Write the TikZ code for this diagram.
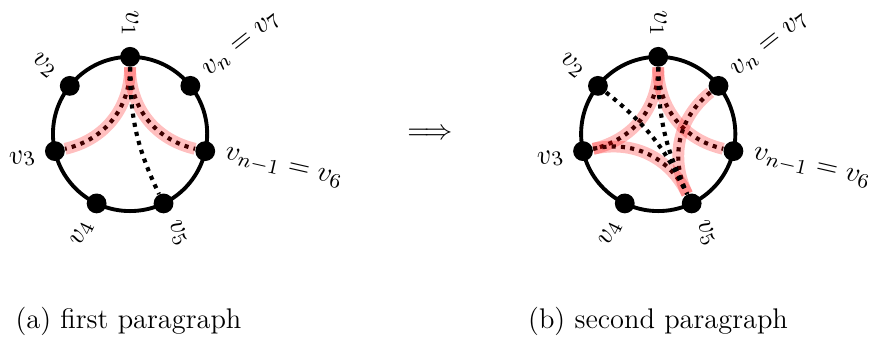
\documentclass[tikz,border=0pt]{standalone}
\usepackage{tikz}
\usetikzlibrary{calc}

\begin{document}
\begin{tikzpicture}[font=\fontsize{11}{13}\selectfont,
    vdot/.style={circle, fill=black, inner sep=0pt, minimum size=0.27cm},
    dotedge/.style={line width=1.6pt, dotted},
    redge/.style={dotedge, postaction={draw=red, solid, opacity=0.25, line width=4.6pt}}]
  \useasboundingbox (0,0) rectangle (11.90,4.63);
  \coordinate (La) at (1.771,2.806);
  \coordinate (Lb) at (8.962,2.806);
  % two 7-cycles with rotated labels
  \foreach \s in {a,b} {
    \draw[line width=1.5pt] (L\s) circle (1.05);
    \foreach \k/\txt in {1/v_1, 2/v_2, 3/v_3, 4/v_4, 5/v_5, 6/{v_{n-1}=v_6}, 7/{v_n=v_7}} {
      \pgfmathsetmacro\ang{90+(\k-1)*360/7}
      \node[vdot] (\s\k) at ($(L\s)+(\ang:1.05)$) {};
      \ifnum\k<5
        \node[anchor=east, rotate=\ang+180] (\s\k l) at ($(L\s)+(\ang:1.2)$) {$\txt$};
      \else
        \node[anchor=west, rotate=\ang] (\s\k l) at ($(L\s)+(\ang:1.2)$) {$\txt$};
      \fi
    }
  }
  % left
  \draw[redge] (a1) to[out=270, in=12.9] (a3);
  \draw[redge] (a1) to[out=270, in=167.1] (a6);
  \draw[dotedge] (a1) to[out=270, in=115.7] (a5);
  % right
  \draw[redge] (b1) to[out=270, in=12.9] (b3);
  \draw[redge] (b1) to[out=270, in=167.1] (b6);
  \draw[redge] (b3) to[out=12.9, in=115.7] (b5);
  \draw[redge] (b7) to[out=218.6, in=115.7] (b5);
  \draw[dotedge] (b2) to[out=321.4, in=115.7] (b5);
  \draw[dotedge] (b1) to[out=270, in=115.7] (b5);

  \node (imp) at (5.857,2.806) {$\Longrightarrow$};
  \node[anchor=base] (capa) at (1.75,0.163) {(a) first paragraph};
  \node[anchor=base] (capb) at (8.96,0.163) {(b) second paragraph};
\end{tikzpicture}
\end{document}
